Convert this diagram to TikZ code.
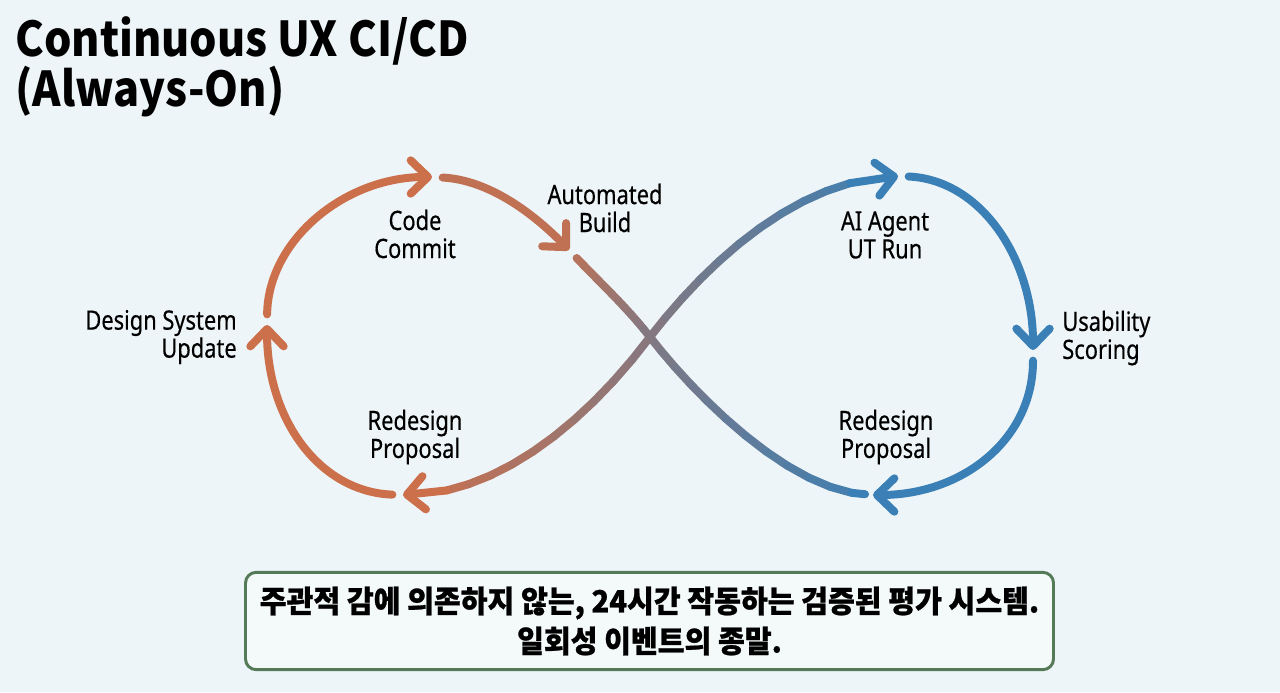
\documentclass[tikz,border=0pt]{standalone}
\usepackage{fontspec}
\usetikzlibrary{arrows.meta}
\setmainfont{Noto Sans}
\newfontfamily\titlefont{Noto Sans CJK KR}[FakeStretch=0.9]
\newfontfamily\labelfont{Noto Sans}[FakeStretch=0.82,FakeBold=0.4]
\newfontfamily\krfont{Noto Sans CJK KR}[FakeStretch=0.95,FakeBold=0.8]
\definecolor{uxbg}{RGB}{238,245,248}
\definecolor{uxorange}{RGB}{204,112,76}
\definecolor{uxblue}{RGB}{58,128,182}
\definecolor{uxgreen}{RGB}{84,122,88}
\definecolor{uxbox}{RGB}{244,249,249}
\tikzset{strand/.style={line width=6pt,line cap=round},
  chev/.style={-{Straight Barb[length=13pt,width=25pt,round]}},
  steplabel/.style={font=\labelfont\fontsize{20}{21}\selectfont,align=center,inner sep=0pt}}

\begin{document}
\begin{tikzpicture}[x=0.75pt,y=-0.75pt]
  \fill[uxbg] (0,0) rectangle (1280,692);
  \useasboundingbox (0,0) rectangle (1280,692);

  \node[anchor=north west,align=left,inner sep=0pt,
    font=\titlefont\bfseries\fontsize{36}{35.5}\selectfont] (title) at (15,16)
    {Continuous UX CI/CD\\(Always-On)};

  % arrow tips of the loop
  \coordinate (tl) at (432,177);
  \coordinate (ab) at (569,250);
  \coordinate (cx) at (650,337);
  \coordinate (tr) at (898,176);
  \coordinate (rs) at (1033,350);
  \coordinate (br) at (873,495);
  \coordinate (bl) at (403,495);
  \coordinate (ls) at (267,325);

  % left loop
  \draw[strand,chev,uxorange,shorten <=8pt] (bl) .. controls (320,492) and (267,420) .. (ls);
  \draw[strand,chev,uxorange,shorten <=8pt] (ls) .. controls (268,240) and (345,177) .. (tl);
  \draw[strand,chev,uxorange!92!uxblue,shorten <=8pt] (tl) .. controls (490,180) and (535,215) .. (ab);
  % right loop
  \draw[strand,chev,uxblue,shorten <=8pt] (tr) .. controls (982,180) and (1033,260) .. (rs);
  \draw[strand,chev,uxblue,shorten <=8pt] (rs) .. controls (1033,440) and (962,495) .. (br);

  % crossing strands, sampled so the colour can fade
  \foreach \i in {0,...,12}{
    \path (ab) .. controls (600,283) and (625,305) .. (cx) coordinate[pos=\i/12] (a\i);
    \path (cx) .. controls (690,389) and (790,495) .. (br) coordinate[pos=\i/12] (b\i);
    \path (bl) .. controls (490,497) and (580,430) .. (cx) coordinate[pos=\i/12] (c\i);
    \path (cx) .. controls (710,259) and (800,178) .. (tr) coordinate[pos=\i/12] (d\i);
  }
  \foreach \i [evaluate=\i as \j using int(\i+1), evaluate=\i as \m using int(88-\i*40/12)] in {1,...,11}
    \draw[strand,uxorange!\m!uxblue] (a\i) -- (a\j);
  \foreach \i [evaluate=\i as \j using int(\i+1), evaluate=\i as \m using int(48-\i*4)] in {0,...,10}
    \draw[strand,uxorange!\m!uxblue] (b\i) -- (b\j);
  \draw[strand,uxblue,shorten >=6pt] (b11) -- (b12);
  \foreach \i [evaluate=\i as \j using int(\i+1), evaluate=\i as \m using int(100-\i*50/12)] in {2,...,11}
    \draw[strand,uxorange!\m!uxblue] (c\i) -- (c\j);
  \draw[strand,chev,uxorange] (c2) -- (c0);
  \foreach \i [evaluate=\i as \j using int(\i+1), evaluate=\i as \m using int(50-\i*50/12)] in {0,...,9}
    \draw[strand,uxorange!\m!uxblue] (d\i) -- (d\j);
  \draw[strand,chev,uxblue] (d10) -- (d12);

  % step labels
  \node[steplabel] (commit) at (415,234) {Code\\Commit};
  \node[steplabel] (build) at (605,208) {Automated\\Build};
  \node[steplabel,anchor=east,align=right] (design) at (237,337) {Design System\\Update};
  \node[steplabel] (redesignl) at (415,437) {Redesign\\Proposal};
  \node[steplabel] (agent) at (885,235) {AI Agent\\UT Run};
  \node[steplabel,anchor=west,align=left] (scoring) at (1062,338) {Usability\\Scoring};
  \node[steplabel] (redesignr) at (886,437) {Redesign\\Proposal};

  \node[draw=uxgreen,fill=uxbox,line width=2.2pt,rounded corners=8pt,
    minimum width=606pt,minimum height=73pt,align=center,
    font=\krfont\bfseries\fontsize{23}{30}\selectfont] (motto) at (649.5,621)
    {주관적 감에 의존하지 않는, 24시간 작동하는 검증된 평가 시스템.\\일회성 이벤트의 종말.};
\end{tikzpicture}
\end{document}
